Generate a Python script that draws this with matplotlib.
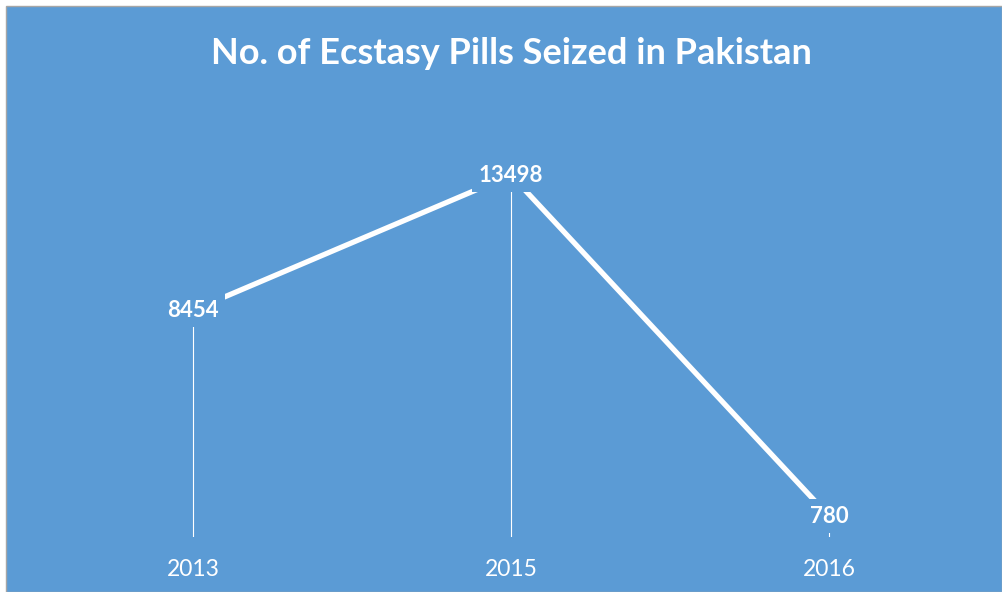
import matplotlib.pyplot as plt
from matplotlib.patches import Rectangle

years = ['2013', '2015', '2016']
pills = [8454, 13498, 780]

bg = '#5B9BD5'

fig = plt.figure(figsize=(10.02, 5.92), dpi=100, facecolor='white')
# blue chart area with thin grey border, small white margin top/left
fig.patches.append(Rectangle((6 / 1002, 0), 1 - 6 / 1002, 1 - 6 / 592,
                             transform=fig.transFigure, facecolor=bg,
                             edgecolor='#A6A6A6', linewidth=1, zorder=-5))

ax = fig.add_axes([34 / 1002, 55 / 592, 954 / 1002, 429 / 592])
ax.set_facecolor('none')
x = range(len(years))

# drop lines
ax.vlines(x, 0, pills, colors='white', linewidth=0.8, zorder=1)
ax.plot(x, pills, color='white', linewidth=3.8, zorder=2, solid_capstyle='butt')

for i, v in zip(x, pills):
    ax.text(i, v, str(v), ha='center', va='center', color='white',
            fontsize=16, fontweight='bold', family='Lato', zorder=3,
            bbox=dict(boxstyle='square,pad=0.3', facecolor=bg, edgecolor='none'))

ax.set_xlim(-0.5, 2.5)
ax.set_ylim(0, 16000)
ax.set_yticks([])
ax.set_xticks(list(x))
ax.set_xticklabels(years, color='white', fontsize=16.5, family='Lato')
ax.tick_params(axis='x', length=0, pad=16)
for s in ax.spines.values():
    s.set_visible(False)

fig.text(0.51, 0.91, 'No. of Ecstasy Pills Seized in Pakistan', ha='center',
         va='center', color='white', fontsize=26, fontweight='bold', family='Lato')

fig.savefig('out.png', dpi=100, facecolor=fig.get_facecolor())
